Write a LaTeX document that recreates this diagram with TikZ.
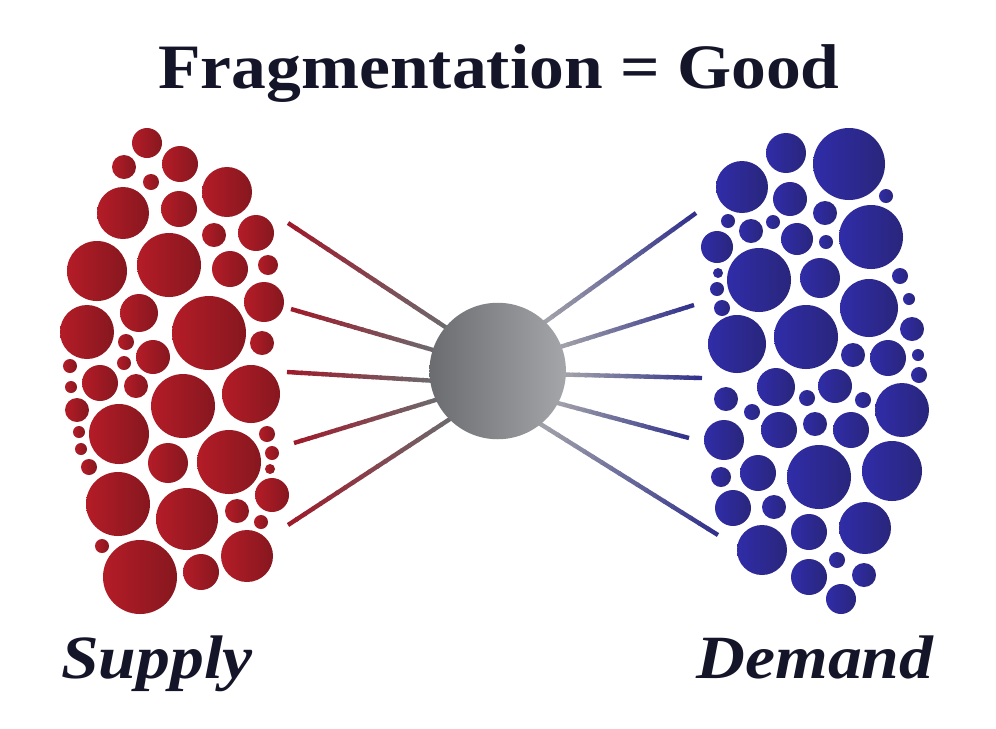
\documentclass[tikz,border=0pt]{standalone}
\usepackage{fontspec}
\setmainfont{Liberation Serif}
\newfontfamily\widefont[FakeStretch=1.1]{Liberation Serif}
\usepackage{tikz}
\usetikzlibrary{calc, backgrounds}
\usepackage{xcolor}

\definecolor{redL}{HTML}{B41C27}
\definecolor{redR}{HTML}{86171F}
\definecolor{blueL}{HTML}{302CA8}
\definecolor{blueR}{HTML}{29267C}
\definecolor{hubL}{HTML}{6B6C70}
\definecolor{hubR}{HTML}{A5A6AA}
\definecolor{lineRed}{HTML}{9E1B2B}
\definecolor{lineBlue}{HTML}{32318C}
\definecolor{ink}{HTML}{15152A}

\tikzset{
  hub/.style={circle, minimum size=2.73cm, inner sep=0pt, left color=hubL, right color=hubR},
  sidetext/.style={font=\widefont\bfseries\itshape\fontsize{35}{40}\selectfont, text=ink, inner sep=0pt, anchor=base},
  spoke/.style={line width=2.5pt}
}

\begin{document}
\begin{tikzpicture}[x=0.02cm, y=-0.02cm]
        \useasboundingbox (0,0) rectangle (996,728);
        % Titulo
        \node[font=\widefont\bfseries\fontsize{36}{42}\selectfont, text=ink, inner sep=0pt, anchor=base] (title) at (499,88) {Fragmentation = Good};
        % Supply
        \foreach \x/\y/\r in {147/143/15, 124/167/12, 180/164/18, 151/182/8, 227/192/25, 123/213/26,
            179/209/18, 214/235/12, 256/233/18, 97/271/30, 169/265/32, 230/269/18, 268/265/10,
            264/302/20, 87/332/27, 139/313/19, 209/333/37, 262/343/12, 126/342/8, 153/357/17,
            124/363/7, 70/366/7, 71/387/6, 100/383/18, 136/386/12, 183/406/32, 251/394/29,
            77/410/12, 119/434/30, 79/432/6, 81/449/6, 89/467/8, 168/463/20, 229/462/32,
            267/434/8, 272/453/7, 270/469/5, 272/495/17, 118/504/32, 187/519/31, 237/511/12,
            261/522/7, 102/546/7, 140/577/37, 201/572/18, 247/556/26}
            \shade[left color=redL, right color=redR] (\x,\y) circle (\r);
        % Demand
        \foreach \x/\y/\r in {786/153/20, 849/164/36, 742/187/26, 790/199/17, 886/196/7, 728/221/7,
            751/231/12, 773/222/7, 825/213/12, 797/239/16, 826/242/7, 871/237/32, 717/247/16,
            759/280/32, 820/278/20, 718/273/5, 717/289/7, 722/308/8, 869/308/29, 900/276/8,
            909/299/6, 737/344/29, 806/337/32, 912/329/12, 853/355/12, 888/358/18, 918/355/6,
            919/375/8, 776/387/19, 835/386/17, 726/399/12, 807/398/8, 863/400/8, 902/410/27,
            752/412/8, 779/430/18, 815/424/12, 851/430/18, 724/440/20, 721/477/10, 758/473/18,
            819/477/32, 892/471/30, 733/508/18, 774/507/12, 809/532/18, 865/528/26, 762/550/25,
            837/560/8, 809/577/18, 864/575/12, 841/599/15}
            \shade[left color=blueL, right color=blueR] (\x,\y) circle (\r);
        % Hub
        \node[hub] (hub) at (497.7,371) {};
        \coordinate (s1) at (288,223);
        \coordinate (s2) at (291,309);
        \coordinate (s3) at (287,372);
        \coordinate (s4) at (294,443);
        \coordinate (s5) at (288,525);
        \coordinate (d1) at (696,213);
        \coordinate (d2) at (694,305);
        \coordinate (d3) at (702,378);
        \coordinate (d4) at (689,438);
        \coordinate (d5) at (718,535);
        \begin{scope}[on background layer]
            \fill[white] (0,0) rectangle (996,728);
            \foreach \s/\a in {s1/140, s2/162, s3/188, s4/205, s5/225}
                \foreach \i in {0,...,19}{
                    \pgfmathtruncatemacro\p{100-5*\i}
                    \pgfmathsetmacro\ta{\i/20}
                    \pgfmathsetmacro\tb{(\i+1.2)/20}
                    \draw[spoke, lineRed!\p!hubL] ($(\s)!\ta!(hub.\a)$) -- ($(\s)!\tb!(hub.\a)$);
                }
            \foreach \s/\a in {d1/46, d2/21, d3/357, d4/332, d5/309}
                \foreach \i in {0,...,19}{
                    \pgfmathtruncatemacro\p{100-5*\i}
                    \pgfmathsetmacro\ta{\i/20}
                    \pgfmathsetmacro\tb{(\i+1.2)/20}
                    \draw[spoke, lineBlue!\p!hubR] ($(\s)!\ta!(hub.\a)$) -- ($(\s)!\tb!(hub.\a)$);
                }
        \end{scope}
        \node[sidetext] (supply) at (157,678) {Supply};
        \node[sidetext] (demand) at (815,678) {Demand};
    \end{tikzpicture}
\end{document}
